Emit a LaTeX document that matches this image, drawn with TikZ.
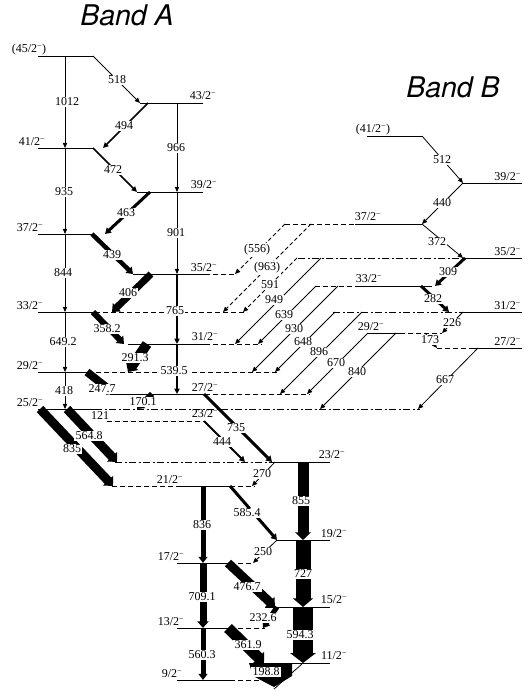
\documentclass[tikz,border=0pt]{standalone}
\usepackage{fontspec}
\setmainfont{Liberation Serif}
\newfontfamily\bandfont{TeX Gyre Heros}
\usetikzlibrary{arrows.meta}
\newcommand\jm{\textsuperscript{−}}
\tikzset{
  lev/.style={line width=0.9pt},
  levd/.style={lev, dash pattern=on 5pt off 3pt},
  levdd/.style={lev, dash pattern=on 7pt off 2.5pt on 2pt off 2.5pt},
  gam/.style={-{Triangle[length=5pt 0.25, width=3.5pt 1.1]}, line width=0.8pt},
  gamd/.style={gam, dash pattern=on 4pt off 2.5pt},
  glab/.style={fill=white, inner sep=1.1pt, font=\fontsize{12}{12}\selectfont},
  llab/.style={inner sep=0pt, font=\fontsize{12}{12}\selectfont},
  band/.style={inner sep=0pt, font=\bandfont\itshape\fontsize{28.5}{30}\selectfont}
}
\begin{document}
\begin{tikzpicture}[x=1pt,y=-1pt]
\useasboundingbox (0,0) rectangle (522,692);
\fill[white] (0,0) rectangle (522,692);

\node[band] (bandA) at (127,15) {Band A};
\node[band] (bandB) at (453,87) {Band B};

% ---------------- levels, band A
\draw[lev] (38,56) -- (93,56);
\draw[lev] (140,103) -- (203,103);
\draw[lev] (38,148) -- (93,148);
\draw[lev] (137,192) -- (203,192);
\draw[lev] (38,234) -- (92,234);
\draw[lev] (133,274) -- (205,274); \draw[levd] (205,274) -- (237,274);
\draw[lev] (38,312) -- (95,312); \draw[levd] (95,312) -- (247,312);
\draw[lev] (128,344) -- (205,344); \draw[levd] (205,344) -- (262,344);
\draw[lev] (38,372) -- (88,372); \draw[levd] (88,372) -- (278,372);
\draw[lev] (110,394) -- (205,394); \draw[levd] (205,394) -- (310,394);
\draw[lev] (38,409) -- (95,409); \draw[levdd] (95,409) -- (420,409);
\draw[levd] (107,421) -- (205,421);
\draw[levdd] (115,462) -- (273,462); \draw[lev] (273,462) -- (330,462);
\draw[levd] (112,486) -- (180,486); \draw[lev] (180,486) -- (230,486); \draw[levd] (230,486) -- (255,486);
\draw[lev] (277,540) -- (330,540);
\draw[lev] (177,563) -- (230,563); \draw[levd] (230,563) -- (252,563);
\draw[lev] (265,607) -- (330,607);
\draw[lev] (177,628) -- (230,628); \draw[levd] (230,628) -- (265,628);
\draw[lev] (250,663) -- (330,663);
\draw[lev] (177,680) -- (230,680); \draw[levd] (230,680) -- (260,680);

% ---------------- levels, band B
\draw[lev] (367,136) -- (422,136);
\draw[lev] (463,183) -- (522,183);
\draw[levd] (285,224) -- (355,224); \draw[lev] (355,224) -- (422,224);
\draw[levdd] (298,258) -- (463,258); \draw[lev] (463,258) -- (522,258);
\draw[levd] (315,286) -- (357,286); \draw[lev] (357,286) -- (432,286);
\draw[levdd] (333,312) -- (462,312); \draw[lev] (462,312) -- (522,312);
\draw[lev] (367,333) -- (400,333); \draw[levd] (400,333) -- (442,333);
\draw[levd] (437,348) -- (470,348); \draw[lev] (470,348) -- (522,348);

% ---------------- level labels
\node[llab] (l45) at (29,50) {(45/2\jm)};
\node[llab] (l43) at (203,96) {43/2\jm};
\node[llab] (l41) at (32,142) {41/2\jm};
\node[llab] (l39) at (204,185) {39/2\jm};
\node[llab] (l37) at (30,228) {37/2\jm};
\node[llab] (l35) at (204,268) {35/2\jm};
\node[llab] (l33) at (30,306) {33/2\jm};
\node[llab] (l31) at (205,337) {31/2\jm};
\node[llab] (l29) at (30,366) {29/2\jm};
\node[llab] (l27) at (205,388) {27/2\jm};
\node[llab] (l25) at (30,403) {25/2\jm};
\node[llab] (l23u) at (205,414) {23/2\jm};
\node[llab] (l23) at (332,455) {23/2\jm};
\node[llab] (l21) at (170,480) {21/2\jm};
\node[llab] (l19) at (334,534) {19/2\jm};
\node[llab] (l17) at (171,557) {17/2\jm};
\node[llab] (l15) at (334,600) {15/2\jm};
\node[llab] (l13) at (171,622) {13/2\jm};
\node[llab] (l11) at (334,656) {11/2\jm};
\node[llab] (l9) at (172,674) {9/2\jm};
\node[llab] (b41) at (373,130) {(41/2\jm)};
\node[llab,anchor=east] (b39) at (521,177) {39/2\jm};
\node[llab] (b37) at (368,217) {37/2\jm};
\node[llab,anchor=east] (b35) at (521,252) {35/2\jm};
\node[llab] (b33) at (369,279) {33/2\jm};
\node[llab,anchor=east] (b31) at (521,306) {31/2\jm};
\node[llab] (b29) at (371,327) {29/2\jm};
\node[llab,anchor=east] (b27) at (521,342) {27/2\jm};

% ---------------- transitions, band A
\draw[gam] (93,56) -- (140,103);
\draw[gam] (65,56) -- (65,148);
\draw[gam, line width=1.5pt] (148,103) -- (103,148);
\draw[gam] (177,103) -- (177,192);
\draw[gam, line width=1.5pt] (93,148) -- (137,192);
\draw[gam] (65,148) -- (65,234);
\draw[gam, line width=3pt] (150,192) -- (105,234);
\draw[gam] (177,192) -- (177,274);
\draw[gam, line width=4.5pt] (92,234) -- (133,274);
\draw[gam] (65,234) -- (65,312);
\draw[gam, line width=7pt] (151,274) -- (112,312);
\draw[gam, line width=1.5pt] (177,274) -- (177,344);
\draw[gam, line width=6pt] (93,312) -- (124,344);
\draw[gam] (65,312) -- (65,372);
\draw[gam, line width=10pt] (147,344) -- (128,372);
\draw[gam, line width=1.5pt] (177,344) -- (177,394);
\draw[gam, line width=8pt] (87,372) -- (115,394);
\draw[gam, line width=6pt] (152,394) -- (137,409);
\draw[gam] (65,372) -- (65,409);
\draw[gam, line width=9pt] (67,409) -- (117,462);
\draw[gam, line width=9pt] (40,409) -- (113,486);
\draw[gam, line width=3pt] (204,394) -- (272,462);
\draw[gam, line width=2pt] (204,421) -- (245,462);
\draw[gam] (275,462) -- (252,486);
\draw[gam, line width=11pt] (303,462) -- (303,540);
\draw[gam, line width=5pt] (203,486) -- (203,563);
\draw[gam, line width=3pt] (230,486) -- (277,540);
\draw[gam] (277,540) -- (253,563);
\draw[gam, line width=15pt] (303,540) -- (303,607);
\draw[gam, line width=7pt] (203,563) -- (203,628);
\draw[gam, line width=9pt] (228,563) -- (275,607);
\draw[gam, line width=5pt] (277,607) -- (263,628);
\draw[gam, line width=20pt] (303,607) -- (303,663);
\draw[gam, line width=5pt] (203,628) -- (203,680);
\draw[gam, line width=11pt] (228,628) -- (264,663);
\fill (249,663) -- (292,663) -- (292,676) -- (274,687) -- (253,676) -- cycle;
\draw[line width=0.8pt] (303,663) -- (274,689);

% ---------------- transitions, band B
\draw[gam] (422,136) -- (463,183);
\draw[gam] (463,183) -- (422,224);
\draw[gam] (422,224) -- (463,258);
\draw[gam, line width=3pt] (465,258) -- (435,286);
\draw[gam, line width=3pt] (421,286) -- (449,312);
\draw[gam] (463,312) -- (442,333);
\draw[gam] (425,333) -- (437,348);

% ---------------- cross transitions B -> A
\draw[gamd] (285,224) -- (235,274);
\draw[gamd] (311,224) -- (223,312);
\draw[gamd] (297,258) -- (243,312);
\draw[gam] (321,258) -- (235,344);
\draw[gam] (316,286) -- (258,344);
\draw[gam] (338,286) -- (252,372);
\draw[gam] (335,312) -- (275,372);
\draw[gam] (362,312) -- (280,394);
\draw[gam] (368,333) -- (307,394);
\draw[gam] (396,333) -- (320,409);
\draw[gam] (478,348) -- (418,409);

% ---------------- transition labels
\node[glab] (e518) at (117,80) {518};
\node[glab] (e1012) at (67,102) {1012};
\node[glab] (e494) at (124,126) {494};
\node[glab] (e966) at (176,148) {966};
\node[glab] (e472) at (113,170) {472};
\node[glab] (e935) at (64,192) {935};
\node[glab] (e463) at (126,213) {463};
\node[glab] (e901) at (176,233) {901};
\node[glab] (e439) at (112,255) {439};
\node[glab] (e844) at (63,273) {844};
\node[glab] (e406) at (128,293) {406};
\node[glab] (e765) at (175,311) {765};
\node[glab] (e358) at (107,329) {358.2};
\node[glab] (e649) at (63,342) {649.2};
\node[glab] (e291) at (135,358) {291.3};
\node[glab] (e539) at (174,371) {539.5};
\node[glab] (e247) at (102,389) {247.7};
\node[glab] (e170) at (143,402) {170.1};
\node[glab] (e418) at (64,391) {418};
\node[glab] (e121) at (100,416) {121};
\node[glab] (e564) at (89,436) {564.8};
\node[glab] (e835) at (72,449) {835};
\node[glab] (e735) at (236,428) {735};
\node[glab] (e444) at (222,442) {444};
\node[glab] (e270) at (262,474) {270};
\node[glab] (e855) at (301,501) {855};
\node[glab] (e836) at (202,525) {836};
\node[glab] (e585) at (247,513) {585.4};
\node[glab] (e250) at (263,552) {250};
\node[glab] (e727) at (303,574) {727};
\node[glab] (e709) at (202,597) {709.1};
\node[glab] (e476) at (247,587) {476.7};
\node[glab] (e232) at (263,618) {232.6};
\node[glab] (e594) at (300,635) {594.3};
\node[glab] (e560) at (202,655) {560.3};
\node[glab] (e361) at (248,645) {361.9};
\node[glab] (e198) at (266,672) {198.8};
\node[glab] (e512) at (442,160) {512};
\node[glab] (e440) at (442,203) {440};
\node[glab] (e372) at (437,242) {372};
\node[glab] (e309) at (448,272) {309};
\node[glab] (e282) at (433,299) {282};
\node[glab] (e226) at (452,323) {226};
\node[glab] (e173) at (430,340) {173};
\node[glab] (e667) at (445,380) {667};
\node[glab] (e556) at (257,250) {(556)};
\node[glab] (e963) at (267,268) {(963)};
\node[glab] (e591) at (270,285) {591};
\node[glab] (e949) at (274,300) {949};
\node[glab] (e639) at (284,315) {639};
\node[glab] (e930) at (294,329) {930};
\node[glab] (e648) at (303,342) {648};
\node[glab] (e896) at (319,352) {896};
\node[glab] (e670) at (336,363) {670};
\node[glab] (e840) at (357,372) {840};
\end{tikzpicture}
\end{document}
